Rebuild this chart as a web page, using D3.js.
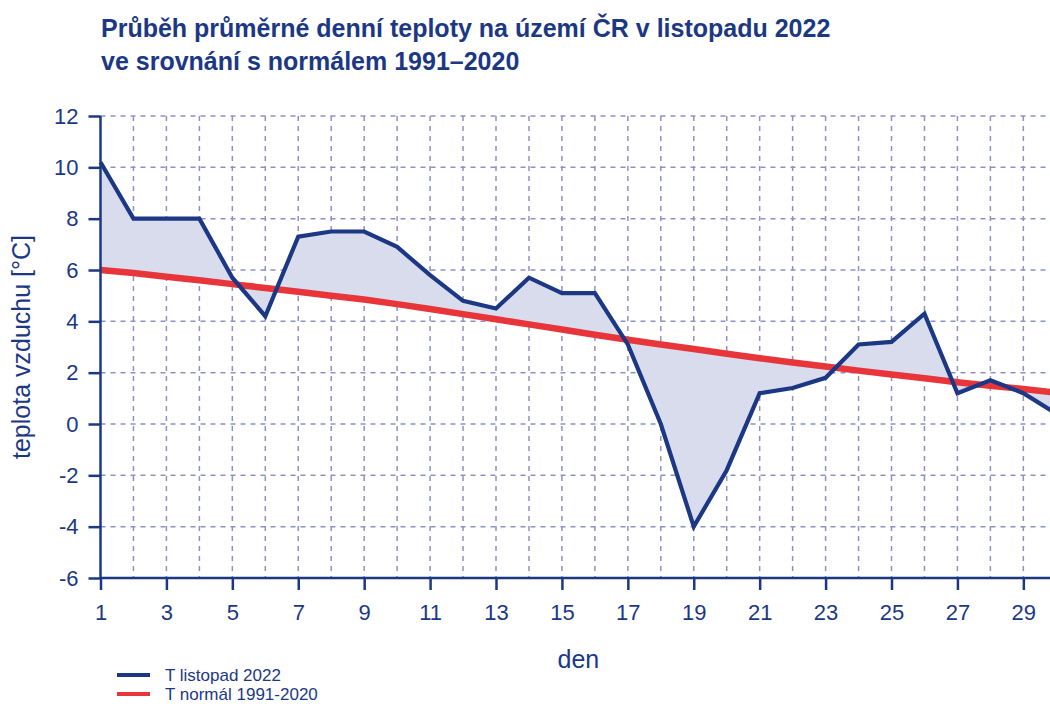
<!DOCTYPE html>
<html>
<head>
<meta charset="utf-8">
<script src="https://cdn.jsdelivr.net/npm/d3@7"></script>
<style>
  body { margin: 0; background: #fff; }
  svg { display: block; font-family: "Liberation Sans", Arial, sans-serif; }
</style>
</head>
<body>
<svg></svg>
<script>
const days = d3.range(1, 31)
const tempNov2022 = [10.2, 8.0, 8.0, 8.0, 5.7, 4.2, 7.3, 7.5, 7.5, 6.9,
  5.8, 4.8, 4.5, 5.7, 5.1, 5.1, 3.1, 0.0, -4.0, -1.8,
  1.2, 1.4, 1.8, 3.1, 3.2, 4.3, 1.2, 1.7, 1.2, 0.4]
const tempNormal = [6.0, 5.88, 5.74, 5.6, 5.45, 5.3, 5.15, 5.0, 4.85, 4.67,
  4.48, 4.28, 4.08, 3.88, 3.68, 3.48, 3.28, 3.1, 2.92, 2.74,
  2.56, 2.4, 2.24, 2.08, 1.93, 1.78, 1.63, 1.49, 1.36, 1.22]
const yTicks = [-6, -4, -2, 0, 2, 4, 6, 8, 10, 12]
const xTicks = [1, 3, 5, 7, 9, 11, 13, 15, 17, 19, 21, 23, 25, 27, 29]
const titleLines = ["Průběh průměrné denní teploty na území ČR v listopadu 2022", "ve srovnání s normálem 1991–2020"]
const legendItems = [
  {label: "T listopad 2022", color: "#1c3885"},
  {label: "T normál 1991-2020", color: "#e8353a"}
]

const w = 1050
const h = 704
const navy = "#1c3885"
const gridCol = "#8c92c6"

const svg = d3.select("svg").attr("width", w).attr("height", h)

const xScale = d3.scaleLinear().domain([1, 30]).range([100.5, 1056.3])
const yScale = d3.scaleLinear().domain([-6, 12]).range([578, 116])

// title
svg.append("g").selectAll("text").data(titleLines).enter().append("text")
  .attr("x", 101).attr("y", (d, i) => 37 + i * 33)
  .attr("fill", navy).attr("font-size", 25).attr("font-weight", "bold")
  .text(d => d)

// grid
svg.append("g").selectAll("line").data(yTicks.filter(d => d > -6)).enter().append("line")
  .attr("x1", xScale(1)).attr("x2", w)
  .attr("y1", d => yScale(d)).attr("y2", d => yScale(d))
  .attr("stroke", gridCol).attr("stroke-width", 1.5).attr("stroke-dasharray", "5,5")
svg.append("g").selectAll("line").data(days.slice(1)).enter().append("line")
  .attr("x1", d => xScale(d)).attr("x2", d => xScale(d))
  .attr("y1", yScale(12)).attr("y2", yScale(-6))
  .attr("stroke", gridCol).attr("stroke-width", 1.5).attr("stroke-dasharray", "5,5")

// fill between the two curves
const rows = days.map((d, i) => ({day: d, t: tempNov2022[i], n: tempNormal[i]}))
const area = d3.area().x(d => xScale(d.day)).y0(d => yScale(d.n)).y1(d => yScale(d.t))
svg.append("path").datum(rows).attr("d", area).attr("fill", "#d9dcec")

const lineN = d3.line().x(d => xScale(d.day)).y(d => yScale(d.n))
const lineT = d3.line().x(d => xScale(d.day)).y(d => yScale(d.t))
svg.append("path").datum(rows).attr("d", lineN).attr("fill", "none")
  .attr("stroke", legendItems[1].color).attr("stroke-width", 6.5)
svg.append("path").datum(rows).attr("d", lineT).attr("fill", "none")
  .attr("stroke", navy).attr("stroke-width", 4.2).attr("stroke-linejoin", "miter")

// axes
const axisY = d3.axisLeft(yScale).tickValues(yTicks).tickSize(12).tickPadding(10).tickFormat(d => String(d))
const gy = svg.append("g").attr("transform", "translate(" + xScale(1) + ",0)").call(axisY)
const axisX = d3.axisBottom(xScale).tickValues(xTicks).tickSize(12).tickPadding(14)
const gx = svg.append("g").attr("transform", "translate(0," + yScale(-6) + ")").call(axisX)
gx.select(".domain").attr("d", "M" + xScale(1) + ",0H" + w)
;[gx, gy].forEach(g => {
  g.select(".domain").attr("stroke", navy).attr("stroke-width", 2.5)
  g.selectAll(".tick line").attr("stroke", navy).attr("stroke-width", 2.5)
  g.selectAll(".tick text").attr("fill", navy).attr("font-size", 22)
    .attr("font-family", "Liberation Sans, Arial, sans-serif")
})
gy.select(".domain").attr("d", "M0," + yScale(12) + "V" + yScale(-6))

// axis titles
svg.append("text").attr("x", xScale(15.5)).attr("y", 668).attr("text-anchor", "middle")
  .attr("fill", navy).attr("font-size", 25).text("den")
svg.append("text").attr("transform", "translate(30," + yScale(3) + ") rotate(-90)")
  .attr("text-anchor", "middle").attr("fill", navy).attr("font-size", 25)
  .text("teplota vzduchu [°C]")

// legend
const leg = svg.append("g").selectAll("g").data(legendItems).enter().append("g")
  .attr("transform", (d, i) => "translate(117," + (675 + i * 19) + ")")
leg.append("line").attr("x1", 0).attr("x2", 33).attr("stroke", d => d.color).attr("stroke-width", 4)
leg.append("text").attr("x", 48).attr("y", 6).attr("fill", navy).attr("font-size", 17)
  .text(d => d.label)
</script>
</body>
</html>
